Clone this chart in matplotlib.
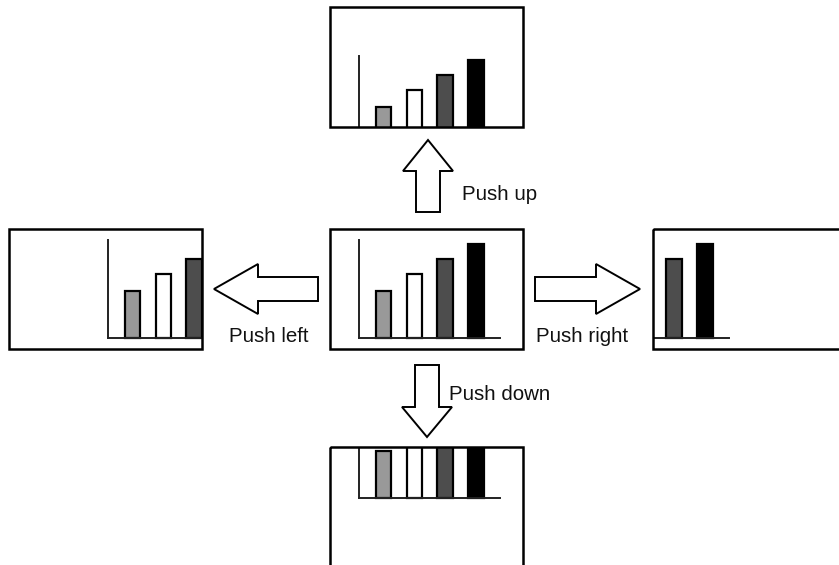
import numpy as np
import matplotlib
matplotlib.use('Agg')
import matplotlib.pyplot as plt
from matplotlib.patches import Rectangle, Polygon

plt.rcParams['font.family'] = ['Liberation Sans', 'DejaVu Sans']


# ------------------------------------------------------------------------
#### data: the little bar chart shown in every panel
bar_values = [47, 64, 79, 94]
bar_colors = ['#999999', '#ffffff', '#4d4d4d', '#000000']
axis_height = 98

#### panels: box corner (top-left, px) and how far the content is moved
panel_labels = ['center', 'up', 'left', 'right', 'down']
panel_x = [330, 330, 9, 653, 330]
panel_y = [229, 7, 229, 229, 447]
panel_dx = [0, 0, 70, -94, 0]
panel_dy = [0, 38, 0, 0, -58]

#### arrows and their labels
arrow_tail = [(428, 212), (318, 289), (535, 289), (427, 365)]
arrow_tip = [(428, 140), (214, 289), (640, 289), (427, 437)]
arrow_head_len = [31, 44, 44, 30]
arrow_text = ['Push up', 'Push left', 'Push right', 'Push down']
text_xy = [(462, 200), (229, 342.5), (536, 341.5), (449, 400)]

box_w, box_h = 193, 120


def draw_panel(ax, x0, y0, dx, dy):
    box = Rectangle((x0, y0), box_w, box_h, fill=False, ec='black', lw=1.8, zorder=5)
    ax.add_patch(box)
    clip = Rectangle((x0, y0), box_w, box_h, transform=ax.transData)

    bx = x0 + dx
    base = y0 + dy + 109
    lefts = bx + 45.7 + 30.8 * np.arange(len(bar_values))
    bars = ax.bar(lefts, -np.array(bar_values), width=15.5, bottom=base, align='edge',
                  color=bar_colors, edgecolor='black', linewidth=1.6, zorder=2)
    for b in bars:
        b.set_clip_path(clip)

    vline, = ax.plot([bx + 29, bx + 29], [base - axis_height, base], color='#222222', lw=1.4, zorder=3)
    hline, = ax.plot([bx + 29, bx + 170], [base, base], color='#222222', lw=1.4, zorder=3)
    vline.set_clip_path(clip)
    hline.set_clip_path(clip)


def block_arrow(ax, tail, tip, head_len, shaft_w=24, head_w=50):
    tail = np.array(tail, float)
    tip = np.array(tip, float)
    d = tip - tail
    u = d / np.hypot(*d)
    n = np.array([-u[1], u[0]])
    hb = tip - u * head_len
    pts = [tail + n * shaft_w / 2, hb + n * shaft_w / 2, hb + n * head_w / 2, tip,
           hb - n * head_w / 2, hb - n * shaft_w / 2, tail - n * shaft_w / 2]
    ax.add_patch(Polygon(pts, closed=True, fc='white', ec='black', lw=1.4, joinstyle='miter', zorder=4))


fig = plt.figure(figsize=(8.39, 5.65), dpi=100)
ax = fig.add_axes([0, 0, 1, 1])
ax.set_xlim(0, 839)
ax.set_ylim(565, 0)
ax.axis('off')

for i in range(len(panel_labels)):
    draw_panel(ax, panel_x[i], panel_y[i], panel_dx[i], panel_dy[i])

for i in range(len(arrow_text)):
    block_arrow(ax, arrow_tail[i], arrow_tip[i], arrow_head_len[i])
    ax.text(text_xy[i][0], text_xy[i][1], arrow_text[i], fontsize=14.8,
            ha='left', va='baseline', color='#111111')

plt.savefig('out.png', dpi=100)
